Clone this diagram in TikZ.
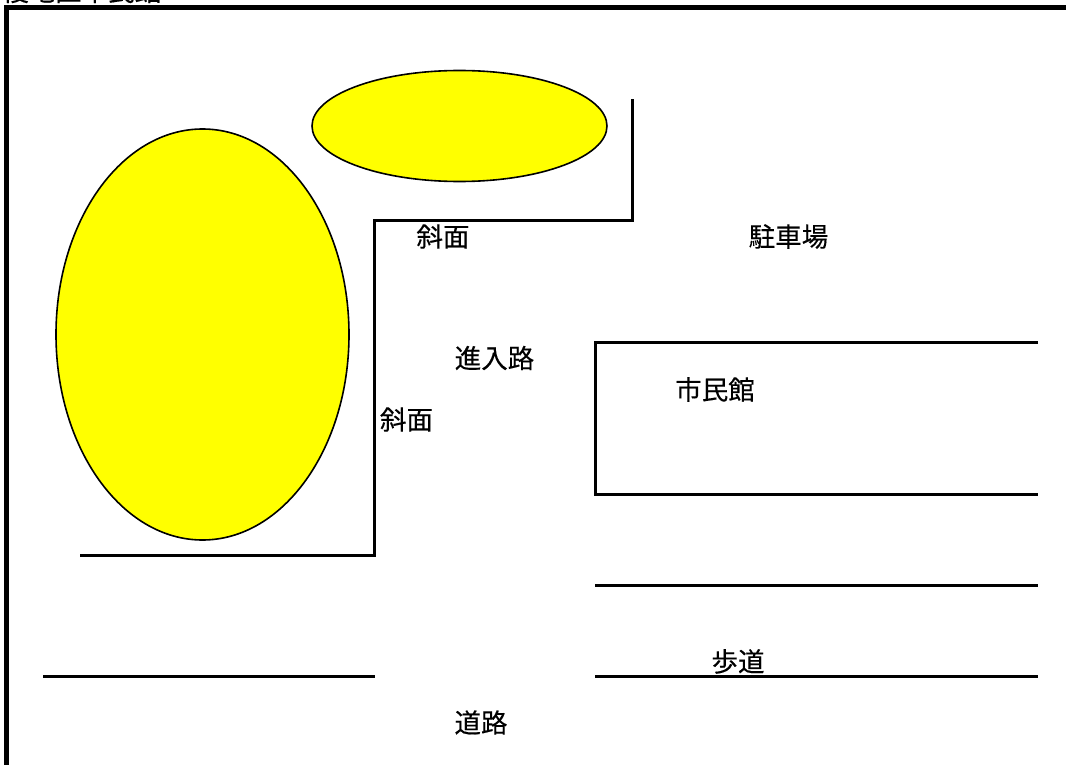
\documentclass[tikz,border=0pt]{standalone}
\usepackage{fontspec}
\setmainfont[FakeBold=0.25]{Noto Sans CJK JP}
\usetikzlibrary{shapes.geometric}
\definecolor{hillyellow}{RGB}{255,255,0}
\tikzset{
  x=1pt,y=-1pt,
  wall/.style={draw=black,line width=3pt,line cap=butt,line join=miter},
  frame/.style={draw=black,line width=4.6pt,line join=miter},
  hill/.style={ellipse,draw=black,line width=1.6pt,fill=hillyellow,inner sep=0pt,outer sep=0pt},
  lab/.style={inner sep=0pt,font=\fontsize{26.5}{26.5}\selectfont,text=black},
}
\begin{document}
\begin{tikzpicture}
\useasboundingbox (0,0) rectangle (1066,765);
\begin{scope}
\clip (0,0) rectangle (1066,765);
\node[lab,anchor=base west] (title) at (2,1) {複地区市民館};
\coordinate (fa) at (6.3,765);
\coordinate (fb) at (6.3,7.5);
\coordinate (fc) at (1066,7.5);
\draw[frame] (fa) -- (fb) -- (fc);
\end{scope}
\node[hill,minimum width=293pt,minimum height=411pt] (h1) at (202.5,334.5) {};
\node[hill,minimum width=295pt,minimum height=111pt] (h2) at (459.5,126) {};
\coordinate (w1) at (80,555);
\coordinate (w2) at (374.8,555);
\coordinate (w3) at (374.8,220.8);
\coordinate (w4) at (632.5,220.8);
\coordinate (w5) at (632.5,99);
\draw[wall] (w1) -- (w2) -- (w3) -- (w4) -- (w5);
\coordinate (b1) at (1038,342.5);
\coordinate (b2) at (595.5,342.5);
\coordinate (b3) at (595.5,494);
\coordinate (b4) at (1038,494);
\draw[wall] (b1) -- (b2) -- (b3) -- (b4);
\coordinate (s1) at (595,585);
\coordinate (s2) at (1038,585);
\draw[wall] (s1) -- (s2);
\coordinate (s3) at (595,676);
\coordinate (s4) at (1038,676);
\draw[wall] (s3) -- (s4);
\coordinate (r1) at (43,676);
\coordinate (r2) at (375,676);
\draw[wall] (r1) -- (r2);
\node[lab] (l1) at (443,236.5) {斜面};
\node[lab] (l2) at (788.5,236.5) {駐車場};
\node[lab] (l3) at (494.5,358) {進入路};
\node[lab] (l4) at (715,389.5) {市民館};
\node[lab] (l5) at (406.5,419.5) {斜面};
\node[lab] (l6) at (738,661.5) {歩道};
\node[lab] (l7) at (481,722.5) {道路};
\end{tikzpicture}
\end{document}
